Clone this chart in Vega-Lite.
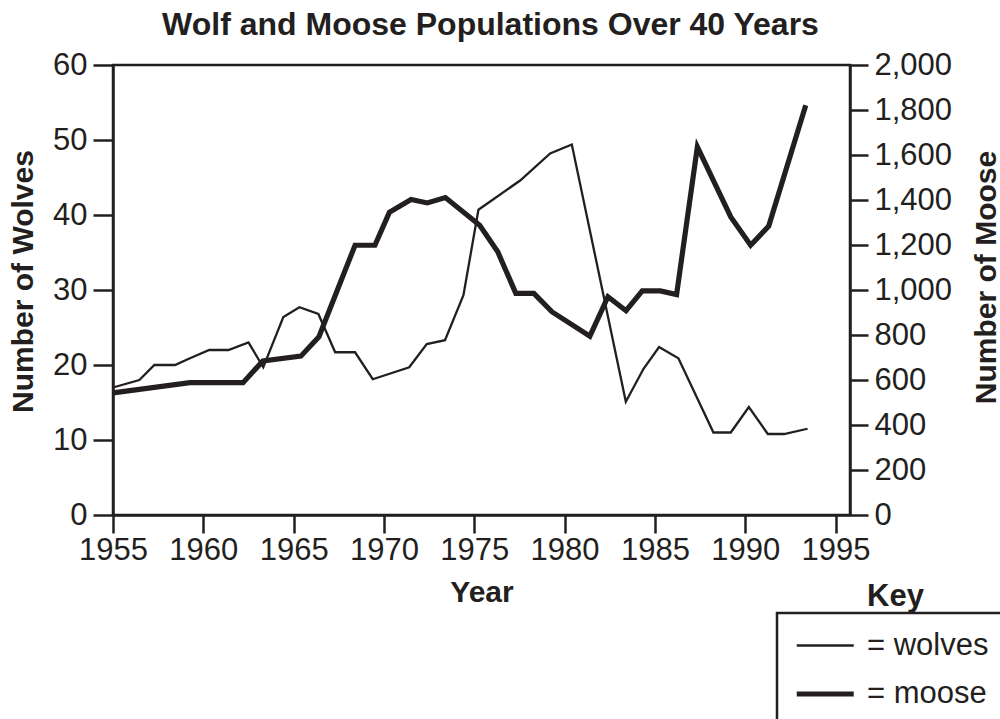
{
  "$schema": "https://vega.github.io/schema/vega-lite/v6.json",
  "width": 737,
  "height": 450,
  "autosize": {"type": "none"},
  "padding": {"left": 113, "top": 65, "right": 150, "bottom": 204},
  "background": "white",
  "title": {
    "text": "Wolf and Moose Populations Over 40 Years",
    "font": "Liberation Sans",
    "fontSize": 32,
    "fontWeight": "bold",
    "color": "#231f20",
    "anchor": "middle",
    "dx": 9,
    "offset": 7
  },
  "data": {
    "values": [
      {"year": 1955.0, "series": "wolves", "value": 17.0},
      {"year": 1956.46, "series": "wolves", "value": 18.0},
      {"year": 1957.29, "series": "wolves", "value": 20.0},
      {"year": 1958.43, "series": "wolves", "value": 20.0},
      {"year": 1959.26, "series": "wolves", "value": 20.9},
      {"year": 1960.33, "series": "wolves", "value": 22.0},
      {"year": 1961.39, "series": "wolves", "value": 22.0},
      {"year": 1962.5, "series": "wolves", "value": 23.0},
      {"year": 1963.32, "series": "wolves", "value": 19.7},
      {"year": 1964.43, "series": "wolves", "value": 26.4},
      {"year": 1965.32, "series": "wolves", "value": 27.7},
      {"year": 1966.37, "series": "wolves", "value": 26.8},
      {"year": 1967.3, "series": "wolves", "value": 21.7},
      {"year": 1968.4, "series": "wolves", "value": 21.7},
      {"year": 1969.38, "series": "wolves", "value": 18.1},
      {"year": 1971.4, "series": "wolves", "value": 19.7},
      {"year": 1972.37, "series": "wolves", "value": 22.8},
      {"year": 1973.38, "series": "wolves", "value": 23.3},
      {"year": 1974.4, "series": "wolves", "value": 29.3},
      {"year": 1975.23, "series": "wolves", "value": 40.7},
      {"year": 1977.54, "series": "wolves", "value": 44.6},
      {"year": 1979.2, "series": "wolves", "value": 48.2},
      {"year": 1980.4, "series": "wolves", "value": 49.4},
      {"year": 1983.39, "series": "wolves", "value": 15.1},
      {"year": 1984.37, "series": "wolves", "value": 19.5},
      {"year": 1985.23, "series": "wolves", "value": 22.4},
      {"year": 1986.3, "series": "wolves", "value": 20.9},
      {"year": 1988.24, "series": "wolves", "value": 11.0},
      {"year": 1989.2, "series": "wolves", "value": 11.0},
      {"year": 1990.2, "series": "wolves", "value": 14.4},
      {"year": 1991.25, "series": "wolves", "value": 10.8},
      {"year": 1992.15, "series": "wolves", "value": 10.8},
      {"year": 1993.45, "series": "wolves", "value": 11.5},
      {"year": 1955.0, "series": "moose", "value": 543},
      {"year": 1959.26, "series": "moose", "value": 588},
      {"year": 1962.2, "series": "moose", "value": 588},
      {"year": 1963.3, "series": "moose", "value": 685},
      {"year": 1965.4, "series": "moose", "value": 706},
      {"year": 1966.4, "series": "moose", "value": 792},
      {"year": 1968.4, "series": "moose", "value": 1199},
      {"year": 1969.5, "series": "moose", "value": 1199},
      {"year": 1970.3, "series": "moose", "value": 1345},
      {"year": 1971.5, "series": "moose", "value": 1402},
      {"year": 1972.4, "series": "moose", "value": 1387},
      {"year": 1973.4, "series": "moose", "value": 1411},
      {"year": 1975.3, "series": "moose", "value": 1288},
      {"year": 1976.3, "series": "moose", "value": 1170},
      {"year": 1977.3, "series": "moose", "value": 985},
      {"year": 1978.3, "series": "moose", "value": 985},
      {"year": 1979.3, "series": "moose", "value": 903},
      {"year": 1981.4, "series": "moose", "value": 795},
      {"year": 1982.4, "series": "moose", "value": 970},
      {"year": 1983.4, "series": "moose", "value": 908},
      {"year": 1984.3, "series": "moose", "value": 996},
      {"year": 1985.3, "series": "moose", "value": 996},
      {"year": 1986.2, "series": "moose", "value": 980},
      {"year": 1987.35, "series": "moose", "value": 1636},
      {"year": 1989.2, "series": "moose", "value": 1325},
      {"year": 1990.3, "series": "moose", "value": 1199},
      {"year": 1991.3, "series": "moose", "value": 1284},
      {"year": 1993.35, "series": "moose", "value": 1821}
    ]
  },
  "encoding": {
    "x": {
      "field": "year",
      "type": "quantitative",
      "scale": {"domain": [1955, 1995.8], "nice": false, "zero": false},
      "axis": {
        "values": [1955, 1960, 1965, 1970, 1975, 1980, 1985, 1990, 1995],
        "format": "d",
        "title": "Year",
        "tickSize": 18,
        "labelPadding": 2,
        "labelOverlap": false,
        "labelFlush": false,
        "titleY": 77,
        "titleBaseline": "middle"
      }
    },
    "color": {
      "datum": "Key",
      "scale": {"range": ["#231f20"]},
      "legend": {
        "orient": "none",
        "legendX": 723,
        "legendY": 516,
        "title": null,
        "symbolSize": 0,
        "symbolOpacity": 0,
        "symbolStrokeWidth": 0,
        "labelFontSize": 31,
        "labelFontWeight": "bold",
        "labelOffset": 0,
        "padding": 0
      }
    },
    "strokeWidth": {
      "field": "series",
      "type": "nominal",
      "scale": {"domain": ["wolves", "moose"], "range": [2.3, 5.2]},
      "legend": {
        "orient": "none",
        "legendX": 664,
        "legendY": 548,
        "title": null,
        "strokeColor": "#231f20",
        "padding": 17,
        "symbolType": "M-1,0H3",
        "symbolSize": 812,
        "symbolStrokeColor": "#231f20",
        "symbolFillColor": "transparent",
        "labelExpr": "'= ' + datum.label",
        "labelFontSize": 31,
        "labelOffset": 39,
        "rowPadding": 16
      }
    }
  },
  "layer": [
    {
      "transform": [{"filter": "datum.series === 'wolves'"}],
      "mark": {"type": "line", "strokeJoin": "miter"},
      "encoding": {
        "y": {
          "field": "value",
          "type": "quantitative",
          "scale": {"domain": [0, 60], "nice": false},
          "axis": {
            "orient": "left",
            "values": [0, 10, 20, 30, 40, 50, 60],
            "title": "Number of Wolves",
            "tickSize": 20,
            "labelPadding": 6,
            "titleAngle": -90,
            "titleX": -90,
            "titleY": 216,
            "titleAlign": "center",
            "titleBaseline": "middle"
          }
        }
      }
    },
    {
      "transform": [{"filter": "datum.series === 'moose'"}],
      "mark": {"type": "line", "strokeJoin": "miter"},
      "encoding": {
        "y": {
          "field": "value",
          "type": "quantitative",
          "scale": {"domain": [0, 2000], "nice": false},
          "axis": {
            "orient": "right",
            "values": [0, 200, 400, 600, 800, 1000, 1200, 1400, 1600, 1800, 2000],
            "format": ",d",
            "title": "Number of Moose",
            "tickSize": 18,
            "labelPadding": 6,
            "titleAngle": -90,
            "titleX": 136,
            "titleY": 212,
            "titleAlign": "center",
            "titleBaseline": "middle"
          }
        }
      }
    }
  ],
  "resolve": {"scale": {"y": "independent"}},
  "config": {
    "view": {"stroke": "#231f20", "strokeWidth": 2.5},
    "axis": {
      "grid": false,
      "domainColor": "#231f20",
      "domainWidth": 2.5,
      "tickColor": "#231f20",
      "tickWidth": 2.5,
      "labelColor": "#231f20",
      "labelFont": "Liberation Sans",
      "labelFontSize": 31,
      "titleFont": "Liberation Sans",
      "titleFontSize": 30,
      "titleFontWeight": "bold",
      "titleColor": "#231f20"
    },
    "legend": {
      "labelFont": "Liberation Sans",
      "labelColor": "#231f20",
      "strokeWidth": 2.5
    }
  }
}
